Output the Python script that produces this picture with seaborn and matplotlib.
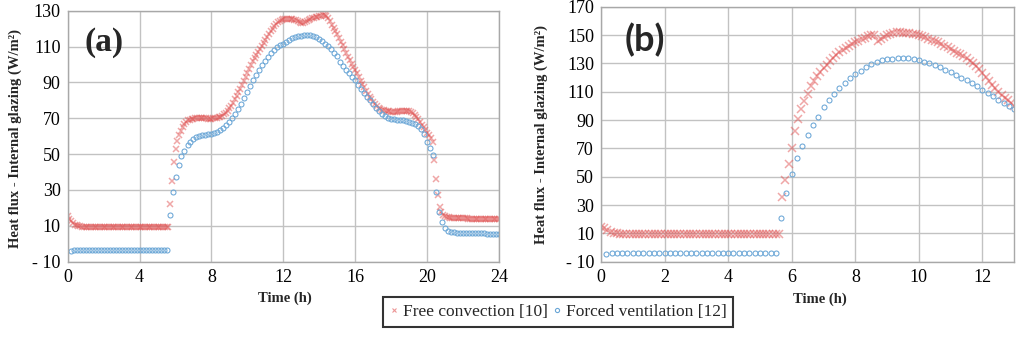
import numpy as np
import pandas as pd
import matplotlib
matplotlib.use("Agg")
import matplotlib.pyplot as plt
import seaborn as sns
from matplotlib.lines import Line2D

# ---------------- data ----------------
# (a) full day, free convection sampled every 0.1 h
t_free_a = np.round(np.arange(0, 24.001, 0.1), 2)
free_a = [
    15.5, 14.0, 12.6, 11.5, 10.7, 10.2, 9.9, 9.7, 9.6, 9.5,
    9.4, 9.4, 9.4, 9.4, 9.4, 9.4, 9.4, 9.4, 9.4, 9.4,
    9.4, 9.4, 9.4, 9.4, 9.4, 9.4, 9.4, 9.4, 9.4, 9.4,
    9.3, 9.3, 9.3, 9.3, 9.3, 9.3, 9.3, 9.3, 9.3, 9.3,
    9.3, 9.3, 9.3, 9.3, 9.3, 9.3, 9.3, 9.3, 9.3, 9.3,
    9.3, 9.3, 9.3, 9.3, 9.3, 9.3, 9.4, 22.0, 35.0, 45.5,
    53.0, 57.5, 60.5, 63.0, 65.0, 66.7, 68.0, 68.8, 69.3, 69.6,
    69.8, 70.0, 70.1, 70.1, 70.1, 70.0, 70.0, 69.9, 69.8, 69.8,
    69.8, 69.9, 70.0, 70.2, 70.5, 70.9, 71.5, 72.2, 73.1, 74.2,
    75.5, 77.0, 78.5, 80.5, 82.5, 84.5, 86.5, 88.8, 91.0, 93.2,
    95.3, 97.5, 99.8, 102.0, 103.8, 105.5, 107.2, 108.8, 110.4, 112.0,
    113.7, 115.4, 117.0, 118.5, 120.0, 121.4, 122.6, 123.6, 124.4, 125.0,
    125.3, 125.5, 125.5, 125.5, 125.4, 125.2, 125.0, 124.6, 124.1, 123.5,
    123.0, 123.3, 123.9, 124.5, 125.0, 125.4, 125.7, 126.0, 126.3, 126.6,
    126.9, 127.2, 127.4, 127.4, 127.0, 125.8, 124.0, 122.2, 120.4, 118.6,
    116.8, 114.8, 112.8, 110.7, 108.6, 106.5, 104.4, 102.4, 100.5, 98.6,
    96.8, 95.0, 93.0, 91.0, 89.0, 87.2, 85.4, 83.6, 82.0, 80.5,
    79.2, 78.0, 76.9, 76.0, 75.3, 74.8, 74.4, 74.1, 73.9, 73.8,
    73.7, 73.7, 73.7, 73.7, 73.8, 73.9, 74.0, 74.1, 74.1, 74.2,
    74.1, 73.7, 73.0, 72.1, 70.9, 69.6, 68.1, 66.5, 65.0, 63.6,
    62.0, 60.4, 58.8, 57.0, 47.0, 36.0, 27.0, 20.5, 17.5, 16.2,
    15.5, 15.1, 14.8, 14.6, 14.5, 14.4, 14.4, 14.3, 14.3, 14.3,
    14.2, 14.2, 14.2, 14.1, 14.1, 14.1, 14.1, 14.1, 14.0, 14.0,
    14.0, 14.0, 14.0, 13.9, 13.9, 13.9, 13.8, 13.8, 13.7, 13.7,
    13.6,
]
# (a) forced ventilation, one point every 10 min
t_forced_a = np.round(np.arange(1, 145) / 6, 3)
forced_a = [
    -4.2, -3.6, -3.3, -3.2, -3.2, -3.2,
    -3.2, -3.2, -3.2, -3.2, -3.2, -3.2, -3.3, -3.3, -3.3, -3.3, -3.3, -3.3,
    -3.6, -3.6, -3.6, -3.6, -3.6, -3.6, -3.6, -3.6, -3.6, -3.6, -3.6, -3.6, -3.6, -3.6, -3.6,
    16.0, 29.0, 37.5, 44.0, 48.7, 52.0, 55.0, 57.0, 58.5, 59.3,
    60.0, 60.4, 60.8, 61.1, 61.3, 61.6, 62.2, 63.2, 64.5, 66.1,
    68.1, 70.2, 72.5, 75.0, 77.7, 81.2, 84.6, 88.2, 91.5, 94.4,
    97.0, 99.5, 102.0, 104.3, 106.4, 108.3, 109.7, 110.7, 111.5, 112.7,
    113.8, 114.6, 115.3, 115.8, 116.1, 116.3, 116.3, 116.2, 115.9, 115.3,
    114.2, 113.3, 111.6, 110.5, 108.6, 106.5, 104.5, 101.2, 99.1, 97.2,
    95.0, 93.1, 91.3, 88.7, 86.5, 84.0, 82.0, 80.0, 77.8, 75.8,
    74.0, 72.4, 71.2, 70.3, 69.8, 69.5, 69.2, 69.0, 68.8, 68.5,
    68.2, 67.6, 66.8, 65.6, 64.0, 61.2, 57.0, 53.2, 49.5, 29.0,
    18.0, 12.0, 8.8, 7.3, 6.6, 6.3, 6.1, 6.0, 6.0, 6.0,
    5.9, 5.9, 5.9, 5.8, 5.8, 5.8, 5.7, 5.7, 5.6, 5.6,
    5.5,
]

# (b) 13 h, free convection every 0.1 h
t_free_b = np.round(np.arange(0, 13.001, 0.1), 2)
free_b = [
    14.8, 13.5, 12.3, 11.3, 10.6, 10.1, 9.8, 9.6, 9.5, 9.4,
    9.4, 9.4, 9.4, 9.4, 9.4, 9.4, 9.4, 9.4, 9.4, 9.4,
    9.3, 9.3, 9.3, 9.3, 9.3, 9.3, 9.3, 9.3, 9.3, 9.3,
    9.3, 9.3, 9.3, 9.3, 9.3, 9.3, 9.3, 9.3, 9.3, 9.3,
    9.3, 9.3, 9.3, 9.3, 9.3, 9.3, 9.3, 9.3, 9.3, 9.3,
    9.3, 9.3, 9.3, 9.3, 9.3, 9.4, 9.5, 35.5, 48.0, 59.0,
    70.0, 82.0, 91.0, 97.5, 103.7, 108.7, 114.0, 117.7, 121.0, 124.0,
    126.7, 129.2, 131.6, 134.0, 136.0, 137.8, 139.4, 140.8, 142.1, 143.4,
    144.8, 146.0, 147.2, 148.2, 149.1, 149.8, 150.2, 146.0, 147.3, 148.6,
    149.8, 150.8, 151.4, 151.8, 151.8, 151.6, 151.4, 151.2, 151.0, 150.6,
    150.0, 149.3, 148.4, 147.5, 146.6, 145.7, 144.8, 143.7, 142.6, 141.4,
    140.2, 138.9, 137.6, 136.3, 135.1, 133.6, 131.9, 130.2, 128.2, 126.0,
    123.4, 120.4, 117.6, 115.0, 112.4, 110.0, 107.7, 105.6, 103.8, 101.7,
    99.8,
]
# (b) forced ventilation every 10 min
t_forced_b = np.round(np.arange(1, 79) / 6, 3)
forced_b = [
    -4.5, -3.9, -3.9, -3.9, -3.9, -3.9,
    -3.9, -3.9, -3.9, -3.9, -3.9, -3.9, -3.9, -3.9, -3.9, -3.9, -3.9, -3.9,
    -3.9, -3.9, -3.9, -3.9, -3.9, -3.9, -3.9, -3.9, -3.9, -3.9, -3.9, -3.9, -3.9, -3.9, -3.9,
    21.0, 38.5, 52.0, 63.0, 72.0, 79.5, 86.5, 92.5, 99.0, 104.3,
    108.5, 112.4, 116.0, 119.4, 122.5, 124.9, 127.2, 129.3, 131.0, 132.1,
    132.8, 133.4, 133.8, 133.8, 133.5, 133.1, 132.4, 131.3, 130.1, 128.7,
    127.1, 125.4, 123.7, 121.9, 120.0, 118.1, 116.0, 113.7, 111.4, 109.1,
    106.8, 104.5, 102.1, 99.8, 97.5,
]

yticks_a = list(range(-10, 131, 20))
yticks_b = list(range(-10, 171, 20))
xticks_a = list(range(0, 25, 4))
xticks_b = list(range(0, 13, 2))
ylabel = "Heat flux - Internal glazing (W/m\u00b2)"
legend_labels = ["Free convection [10]", "Forced ventilation [12]"]

# ---------------- styling ----------------
sns.set_theme(style="whitegrid")
plt.rcParams['font.family'] = ['Liberation Serif', 'DejaVu Serif']

RED = '#e05050'
BLUE = '#6aa6d6'
GRID = '#c2c2c2'

fig = plt.figure(figsize=(10.24, 3.39), dpi=100)
ax_a = fig.add_axes([0.0661, 0.228, 0.4212, 0.7404])
ax_b = fig.add_axes([0.5869, 0.228, 0.4036, 0.7522])


def tick_text(v):
    return f"- {abs(v)}" if v < 0 else str(v)


def draw_panel(ax, t_free, free, t_forced, forced, xticks, yticks, xmax, xsize):
    df_free = pd.DataFrame({"t": t_free, "q": free})
    df_forced = pd.DataFrame({"t": t_forced, "q": forced})
    sns.lineplot(data=df_free, x="t", y="q", ax=ax, estimator=None, sort=False,
                 linestyle="", marker="x", markersize=xsize, color=RED,
                 markeredgecolor=RED, markeredgewidth=1.1, alpha=0.5)
    sns.lineplot(data=df_forced, x="t", y="q", ax=ax, estimator=None, sort=False,
                 linestyle="", marker="o", markersize=3.6, markerfacecolor="none",
                 markeredgecolor=BLUE, markeredgewidth=0.75)
    ax.set_xlim(0, xmax)
    ax.set_ylim(yticks[0], yticks[-1])
    ax.set_xticks(xticks)
    ax.set_yticks(yticks)
    ax.set_yticklabels([tick_text(v) for v in yticks])
    ax.tick_params(length=0, labelsize=13, colors="black", pad=5)
    ax.grid(True, color=GRID, linewidth=1.0)
    for sp in ax.spines.values():
        sp.set_color("#a8a8a8")
        sp.set_linewidth(1.0)
    ax.set_xlabel("Time (h)", fontsize=10.5, fontweight="bold")
    ax.set_ylabel(ylabel, fontsize=10.5, fontweight="bold")


draw_panel(ax_a, t_free_a, free_a, t_forced_a, forced_a, xticks_a, yticks_a, 24, 4.5)
draw_panel(ax_b, t_free_b, free_b, t_forced_b, forced_b, xticks_b, yticks_b, 13, 5.5)
ax_a.xaxis.set_label_coords(0.504, -0.12)
ax_b.xaxis.set_label_coords(0.53, -0.12)
ax_a.yaxis.set_label_coords(-0.106, 0.49)
ax_b.yaxis.set_label_coords(-0.128, 0.5)

fig.text(104.5 / 1024, 1 - 43 / 339, "(a)", fontsize=24, fontweight="bold",
         ha="center", va="center")
fig.text(644.5 / 1024, 1 - 40 / 339, "(b)", fontsize=26, fontweight="bold",
         ha="center", va="center", family=["Lato", "DejaVu Sans"])

handles = [
    Line2D([], [], linestyle="", marker="x", markersize=3, color=RED,
           markeredgewidth=0.8, alpha=0.6),
    Line2D([], [], linestyle="", marker="o", markersize=3, markerfacecolor="none",
           markeredgecolor=BLUE, markeredgewidth=0.8),
]
leg = fig.legend(handles, legend_labels, loc="center", ncol=2,
                 bbox_to_anchor=(558 / 1024, 1 - 312 / 339), fontsize=12.5,
                 frameon=True, fancybox=False, handlelength=0.5,
                 handletextpad=0.25, columnspacing=0.3, borderpad=0.4,
                 borderaxespad=0.2)
leg.get_frame().set_edgecolor("black")
leg.get_frame().set_linewidth(1.5)

fig.savefig("out.png", dpi=100, facecolor="white")
